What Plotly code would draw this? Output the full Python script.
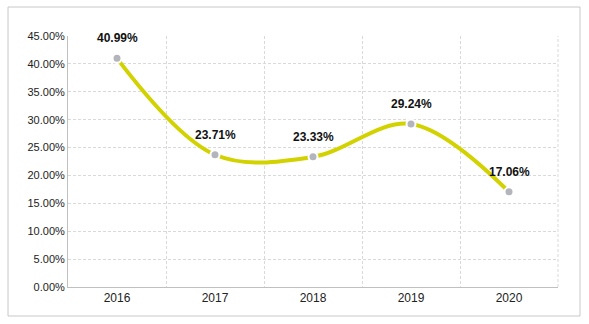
import plotly.graph_objects as go

years = ["2016", "2017", "2018", "2019", "2020"]
values = [40.99, 23.71, 23.33, 29.24, 17.06]
labels = ["40.99%", "23.71%", "23.33%", "29.24%", "17.06%"]

fig = go.Figure()
fig.add_trace(go.Scatter(
    x=years, y=values, mode="lines+markers",
    line=dict(color="#d2d200", width=4, shape="spline", smoothing=1.0),
    marker=dict(color="#b4b4bc", size=9, line=dict(color="white", width=2)),
    cliponaxis=False, showlegend=False,
))
for i, (v, lab) in enumerate(zip(values, labels)):
    fig.add_annotation(x=i, y=v, xref="x", yref="y", text="<b>" + lab + "</b>",
                       showarrow=False, yshift=20,
                       font=dict(family="Liberation Sans, Arial", size=12, color="#111111"))

grid = "#d9d9d9"
fig.update_layout(
    width=589, height=324,
    margin=dict(l=68, r=31, t=36, b=37),
    paper_bgcolor="white", plot_bgcolor="white",
    font=dict(family="Liberation Sans, Arial", size=11, color="#222222"),
    xaxis=dict(type="category", tickson="boundaries", range=[-0.5, 4.5], showgrid=True,
               gridcolor=grid, griddash="3px,2px", gridwidth=1,
               showline=True, linecolor="#c0c0c0", linewidth=1,
               ticks="", tickfont=dict(size=12)),
    yaxis=dict(range=[0, 45], dtick=5, tickformat=".2f", ticksuffix="%",
               showgrid=True, gridcolor=grid, griddash="3px,2px", gridwidth=1,
               showline=True, linecolor="#c0c0c0", linewidth=1,
               zeroline=False, ticks="", tickfont=dict(size=11)),
)
fig.add_shape(type="rect", xref="paper", yref="paper",
              x0=-0.1224, x1=1.0449, y0=-0.1155, y1=1.1155,
              line=dict(color="#c8c8c8", width=1), layer="below")
fig.add_shape(type="line", xref="paper", yref="paper",
              x0=1, x1=1, y0=0, y1=1,
              line=dict(color=grid, width=1, dash="3px,2px"), layer="below")
fig.write_html("out.html")
